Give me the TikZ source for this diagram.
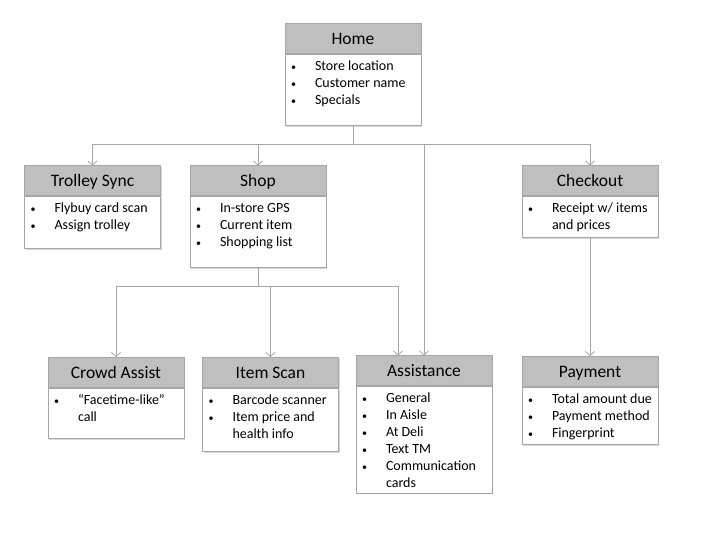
\documentclass[tikz,border=0pt]{standalone}
\usepackage{fontspec}
\setmainfont{Carlito}
\usetikzlibrary{positioning,arrows.meta,shadows}
\definecolor{headgray}{HTML}{BFBFBF}
\definecolor{linegray}{HTML}{A6A6A6}
% body of a card: fixed height, bullet list from the top
\newcommand{\dotb}{{\fontsize{10}{10}\selectfont\textbullet}}
\newcommand{\cardbody}[2]{\begin{minipage}[t][#1][t]{136pt}\vspace{4pt}\hspace*{6pt}\begin{tabular}[t]{@{}p{24pt}@{}l@{}}#2\end{tabular}\end{minipage}}

\begin{document}
\begin{tikzpicture}[x=1pt,y=-1pt,->,>={Straight Barb[length=4pt,width=9pt]}]
			\tikzstyle{head} = [rectangle,draw=linegray,line width=1pt,fill=headgray,minimum width=136pt,minimum height=30pt,inner sep=0pt,text height=15pt,text depth=3pt,font=\fontsize{17.5}{20}\selectfont,general shadow={fill=black!15,shadow xshift=1.2pt,shadow yshift=-1.2pt}]
			\tikzstyle{body} = [rectangle,draw=linegray,line width=1pt,fill=white,inner sep=0pt,font=\fontsize{14}{17}\selectfont,general shadow={fill=black!15,shadow xshift=1.2pt,shadow yshift=-1.2pt}]
			\tikzstyle{link} = [draw=linegray,line width=0.8pt]
			
			\useasboundingbox (0,0) rectangle (712,534);
			
			\node[head] (home) at (353,39) {Home};
			\node[body,below=0pt of home] (home-b) {\cardbody{71pt}{\dotb & Store location\\ \dotb & Customer name\\ \dotb & Specials}};
			
			\node[head] (trolley) at (92.5,181) {Trolley Sync};
			\node[body,below=0pt of trolley] (trolley-b) {\cardbody{52pt}{\dotb & Flybuy card scan\\ \dotb & Assign trolley}};
			
			\node[head] (shop) at (258,181) {Shop};
			\node[body,below=0pt of shop] (shop-b) {\cardbody{71pt}{\dotb & In-store GPS\\ \dotb & Current item\\ \dotb & Shopping list}};
			
			\node[head] (checkout) at (590,181) {Checkout};
			\node[body,below=0pt of checkout] (checkout-b) {\cardbody{41pt}{\dotb & Receipt w/ items\\ & and prices}};
			
			\node[head] (crowd) at (116,372.5) {Crowd Assist};
			\node[body,below=0pt of crowd] (crowd-b) {\cardbody{50pt}{\dotb & “Facetime-like”\\ & call}};
			
			\node[head] (scan) at (270.5,372.5) {Item Scan};
			\node[body,below=0pt of scan] (scan-b) {\cardbody{63pt}{\dotb & Barcode scanner\\ \dotb & Item price and\\ & health info}};
			
			\node[head] (assist) at (424,371) {Assistance};
			\node[body,below=0pt of assist] (assist-b) {\cardbody{106pt}{\dotb & General\\ \dotb & In Aisle\\ \dotb & At Deli\\ \dotb & Text TM\\ \dotb & Communication\\ & cards}};
			
			\node[head] (payment) at (590,371.5) {Payment};
			\node[body,below=0pt of payment] (payment-b) {\cardbody{57pt}{\dotb & Total amount due\\ \dotb & Payment method\\ \dotb & Fingerprint}};
			
			\draw[link] (home-b.south) -- ++(0,18) -| (trolley.north);
			\draw[link] (home-b.south) -- ++(0,18) -| (shop.north);
			\draw[link] (home-b.south) -- ++(0,18) -| (checkout.north);
			\draw[link] (home-b.south) -- ++(0,18) -| (assist.north);
			\draw[link] (shop-b.south) -- ++(0,18) -| (crowd.north);
			\draw[link] (shop-b.south) -- ++(0,18) -| (scan.north);
			\draw[link] (shop-b.south) -- ++(0,18) -| ([xshift=-26pt]assist.north);
			\draw[link] (checkout-b.south) -- (payment.north);
		\end{tikzpicture}
\end{document}
